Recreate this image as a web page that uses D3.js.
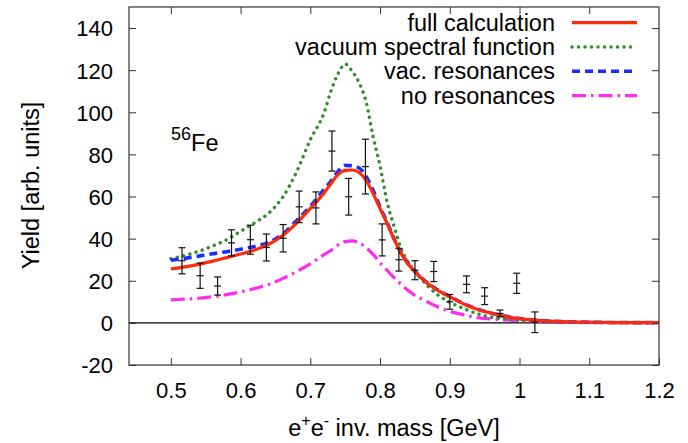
<!DOCTYPE html>
<html><head><meta charset="utf-8">
<script src="https://cdn.jsdelivr.net/npm/d3@7"></script>
<style>
html,body{margin:0;padding:0;background:#fff;}
svg{display:block;font-family:"Liberation Sans",Arial,Helvetica,sans-serif;}
</style></head>
<body><svg id="c" width="688" height="443"></svg>
<script>
// ---- data ----
const curveMass = [0.50,0.52,0.54,0.56,0.58,0.60,0.62,0.64,0.66,0.68,0.70,0.72,0.73,0.74,0.75,0.76,0.77,0.78,0.79,0.80,0.81,0.82,0.83,0.84,0.85,0.86,0.88,0.90,0.92,0.94,0.96,0.98,1.00,1.03,1.06,1.10,1.15,1.20];
const fullCalc = [25.6,26.6,27.8,29.3,31.0,32.7,34.6,37.3,41.4,47.3,54.3,61.8,66.3,70.5,72.4,72.6,71.4,67.7,61.5,54.3,47.3,39.8,33.0,28.0,24.3,21.0,16.0,12.4,9.0,6.4,4.6,3.0,2.0,1.1,0.6,0.3,0.15,0.1];
const vacSpectral = [30.5,32.0,34.0,36.5,39.5,43.5,47.5,52.0,59.5,71.5,87.0,100.0,110.5,118.5,122.9,119.5,114.0,105.0,88.5,74.5,57.5,46.0,35.5,29.0,24.3,20.5,14.0,9.8,6.8,4.3,2.7,1.8,1.2,0.7,0.4,0.2,0.1,0.05];
const vacRes = [29.7,30.6,31.7,32.8,33.8,35.0,36.3,38.2,42.0,48.5,55.3,63.5,67.5,72.0,74.8,74.6,73.5,69.5,63.0,55.0,47.8,40.0,33.3,28.3,24.5,21.2,16.2,12.5,9.1,6.5,4.6,3.1,2.1,1.1,0.6,0.3,0.15,0.1];
const noRes = [10.9,11.3,11.7,12.4,13.4,14.7,16.3,18.2,21.0,24.3,28.0,32.5,34.5,37.0,38.6,38.9,38.0,35.8,32.5,28.5,25.0,21.5,18.4,15.5,13.0,11.3,8.0,5.5,3.8,2.5,1.8,1.4,1.0,0.6,0.4,0.2,0.1,0.05];

const dataMass = [0.516,0.542,0.567,0.587,0.614,0.637,0.661,0.684,0.708,0.731,0.755,0.779,0.803,0.827,0.850,0.877,0.900,0.924,0.950,0.972,0.996,1.022];
const dataYield = [29.5,22.4,17.5,38.0,39.5,35.8,40.2,55.1,54.6,81.6,59.9,74.2,39.4,30.0,25.0,24.4,10.0,18.3,12.7,4.5,18.8,0.3];
const dataErr = [6.2,6.0,4.3,6.2,6.9,6.4,6.5,7.5,7.6,9.5,8.7,13.0,7.6,5.4,4.5,4.8,3.5,4.0,4.0,1.6,4.8,4.9];

const xTicks = [0.5,0.6,0.7,0.8,0.9,1.0,1.1,1.2];
const xTickLabels = ["0.5","0.6","0.7","0.8","0.9","1","1.1","1.2"];
const yTicks = [-20,0,20,40,60,80,100,120,140];
const yTickLabels = ["-20","0","20","40","60","80","100","120","140"];

const seriesNames = ["full calculation","vacuum spectral function","vac. resonances","no resonances"];

// ---- drawing ----
const svg = d3.select("#c");
const L=129,R=659,T=7,B=365;
const x = d3.scaleLinear().domain([0.44,1.2]).range([L,R]);
const y = d3.scaleLinear().domain([-20,150]).range([B,T]);
const frameCol="#333";

// zero line
svg.append("line").attr("x1",L).attr("x2",R).attr("y1",y(0)).attr("y2",y(0))
  .attr("stroke","#000").attr("stroke-width",1.2);

const styles = [
  {vals:fullCalc, color:"#ff2a0a", w:3.2, dash:null, cap:"butt"},
  {vals:vacSpectral, color:"#2f8f26", w:3.4, dash:"0.1,6.4", cap:"round"},
  {vals:vacRes, color:"#1a2cff", w:3.6, dash:"8,5", cap:"butt"},
  {vals:noRes, color:"#ff2cf0", w:3.2, dash:"14,5,2.5,5", cap:"butt"}
];
const line = d3.line().x(d=>x(d[0])).y(d=>y(d[1])).curve(d3.curveMonotoneX);
// draw order: magenta, green, blue, red on top
[3,1,2,0].forEach(i=>{
  const s=styles[i];
  svg.append("path").datum(curveMass.map((m,j)=>[m,s.vals[j]]))
    .attr("d",line).attr("fill","none").attr("stroke",s.color)
    .attr("stroke-width",s.w).attr("stroke-dasharray",s.dash).attr("stroke-linecap",s.cap);
});

// data points with error bars
const eb = svg.append("g").attr("stroke","#111").attr("stroke-width",1.2);
dataMass.forEach((m,i)=>{
  const cx=x(m), y0=y(dataYield[i]-dataErr[i]), y1=y(dataYield[i]+dataErr[i]), yc=y(dataYield[i]);
  eb.append("line").attr("x1",cx).attr("x2",cx).attr("y1",y0).attr("y2",y1);
  [y0,y1,yc].forEach(yy=>eb.append("line").attr("x1",cx-3.5).attr("x2",cx+3.5).attr("y1",yy).attr("y2",yy));
});

// axes (inward ticks, mirrored)
const ax = (g)=>{g.selectAll(".domain").remove(); g.selectAll(".tick line").attr("stroke",frameCol);};
svg.append("g").attr("transform",`translate(0,${B})`)
  .call(d3.axisBottom(x).tickValues(xTicks).tickSize(-7).tickFormat((d,i)=>xTickLabels[i]))
  .call(ax).call(g=>g.selectAll("text").attr("font-size",22).attr("fill","#000")
     .attr("font-family","Liberation Sans, Arial, sans-serif").attr("y",33).attr("dy",0));
svg.append("g").attr("transform",`translate(0,${T})`)
  .call(d3.axisTop(x).tickValues(xTicks.slice(0,-1)).tickSize(-7).tickFormat(""))
  .call(ax);
svg.append("g").attr("transform",`translate(${L},0)`)
  .call(d3.axisLeft(y).tickValues(yTicks).tickSize(-7).tickFormat((d,i)=>yTickLabels[i]))
  .call(ax).call(g=>g.selectAll("text").attr("font-size",22).attr("fill","#000")
     .attr("font-family","Liberation Sans, Arial, sans-serif").attr("x",-16).attr("dy","0.36em"));
svg.append("g").attr("transform",`translate(${R},0)`)
  .call(d3.axisRight(y).tickValues(yTicks).tickSize(-7).tickFormat(""))
  .call(ax);

// frame
svg.append("rect").attr("x",L).attr("y",T).attr("width",R-L).attr("height",B-T)
  .attr("fill","none").attr("stroke",frameCol).attr("stroke-width",1.2);

// legend
const lg = svg.append("g");
seriesNames.forEach((name,i)=>{
  const yy = 22.7 + i*24.3;
  lg.append("text").attr("x",555).attr("y",yy+8).attr("text-anchor","end")
    .attr("font-size",23.5).attr("fill","#000").text(name);
  const s=styles[i];
  lg.append("line").attr("x1",572).attr("x2",637).attr("y1",yy).attr("y2",yy)
    .attr("stroke",s.color).attr("stroke-width",s.w).attr("stroke-dasharray",s.dash).attr("stroke-linecap",s.cap);
});

// 56Fe label
const fe = svg.append("text").attr("x",171).attr("y",151).attr("font-size",23.5).attr("fill","#000");
fe.append("tspan").attr("font-size",18).attr("dy",-11).text("56");
fe.append("tspan").attr("dy",11).text("Fe");

// axis titles
const xl = svg.append("text").attr("x",394).attr("y",436).attr("text-anchor","middle").attr("font-size",23.5).attr("fill","#000");
xl.append("tspan").text("e");
xl.append("tspan").attr("font-size",16).attr("dy",-10).text("+");
xl.append("tspan").attr("dy",10).text("e");
xl.append("tspan").attr("font-size",16).attr("dy",-10).text("-");
xl.append("tspan").attr("dy",10).text(" inv. mass [GeV]");

svg.append("text").attr("transform","translate(39,185.5) rotate(-90)").attr("text-anchor","middle")
  .attr("font-size",23.5).attr("fill","#000").text("Yield [arb. units]");
</script></body></html>
